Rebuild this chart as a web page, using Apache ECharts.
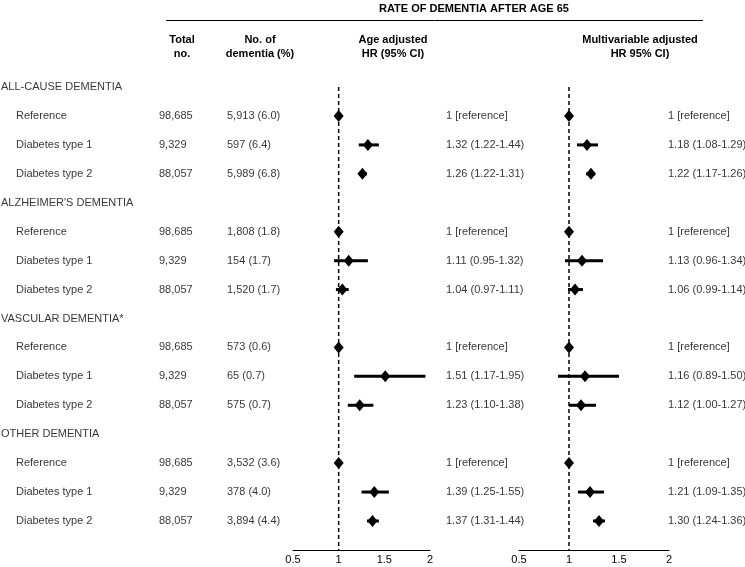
<!DOCTYPE html>
<html>
<head>
<meta charset="utf-8">
<script src="https://cdn.jsdelivr.net/npm/echarts@6/dist/echarts.min.js"></script>
<style>
html,body{margin:0;padding:0;background:#fff;}
#chart{width:745px;height:567px;}
</style>
</head>
<body>
<div id="chart"></div>
<script>
// ---------------- DATA ----------------
const title = "RATE OF DEMENTIA AFTER AGE 65";
const groups = ["ALL-CAUSE DEMENTIA", "ALZHEIMER'S DEMENTIA", "VASCULAR DEMENTIA*", "OTHER DEMENTIA"];
const subgroups = ["Reference", "Diabetes type 1", "Diabetes type 2"];
const totalNo = ["98,685", "9,329", "88,057"];
const dementiaN = [
  ["5,913 (6.0)", "597 (6.4)", "5,989 (6.8)"],
  ["1,808 (1.8)", "154 (1.7)", "1,520 (1.7)"],
  ["573 (0.6)", "65 (0.7)", "575 (0.7)"],
  ["3,532 (3.6)", "378 (4.0)", "3,894 (4.4)"]
];
const ageHR = [[1, 1.32, 1.26], [1, 1.11, 1.04], [1, 1.51, 1.23], [1, 1.39, 1.37]];
const ageLo = [[1, 1.22, 1.22], [1, 0.95, 0.97], [1, 1.17, 1.10], [1, 1.25, 1.31]];
const ageHi = [[1, 1.44, 1.31], [1, 1.32, 1.11], [1, 1.95, 1.38], [1, 1.55, 1.44]];
const mvHR = [[1, 1.18, 1.22], [1, 1.13, 1.06], [1, 1.16, 1.12], [1, 1.21, 1.30]];
const mvLo = [[1, 1.08, 1.17], [1, 0.96, 0.99], [1, 0.89, 1.00], [1, 1.09, 1.24]];
const mvHi = [[1, 1.29, 1.26], [1, 1.34, 1.14], [1, 1.50, 1.27], [1, 1.35, 1.36]];
const axisTicks = [0.5, 1, 1.5, 2];

// ---------------- LAYOUT ----------------
const FONT = "'Liberation Sans', Arial, sans-serif";
const ROW_MIN = -0.5, ROW_MAX = 16;
const GRID_TOP = 72.6, GRID_H = 477.3;
const COL = {group: 1, sub: 16, total: 159, dem: 227, ageTxt: 446, mvTxt: 668};

// build rows
const rows = [];
let r = 0;
groups.forEach((g, gi) => {
  rows.push({type: 'group', label: g, row: r++});
  subgroups.forEach((s, si) => {
    rows.push({type: 'item', label: s, gi, si, row: r++});
  });
});

function hrText(hr, lo, hi, si) {
  if (si === 0) return "1 [reference]";
  return hr.toFixed(2) + " (" + lo.toFixed(2) + "-" + hi.toFixed(2) + ")";
}

const textData = [];
rows.forEach(rw => {
  if (rw.type === 'group') {
    textData.push({value: [COL.group, rw.row], t: rw.label});
  } else {
    const {gi, si} = rw;
    textData.push({value: [COL.sub, rw.row], t: rw.label});
    textData.push({value: [COL.total, rw.row], t: totalNo[si]});
    textData.push({value: [COL.dem, rw.row], t: dementiaN[gi][si]});
    textData.push({value: [COL.ageTxt, rw.row], t: hrText(ageHR[gi][si], ageLo[gi][si], ageHi[gi][si], si)});
    textData.push({value: [COL.mvTxt, rw.row], t: hrText(mvHR[gi][si], mvLo[gi][si], mvHi[gi][si], si)});
  }
});

function pointData(HR) {
  return rows.filter(x => x.type === 'item').map(x => [HR[x.gi][x.si], x.row]);
}
function ciData(HR, LO, HI) {
  return rows.filter(x => x.type === 'item' && x.si > 0).map(x => [LO[x.gi][x.si], HI[x.gi][x.si], x.row]);
}

function ciSeries(idx, HR, LO, HI) {
  return {
    type: 'custom', xAxisIndex: idx, yAxisIndex: idx,
    data: ciData(HR, LO, HI),
    renderItem: function (params, api) {
      const a = api.coord([api.value(0), api.value(2)]);
      const b = api.coord([api.value(1), api.value(2)]);
      return {type: 'line', shape: {x1: a[0], y1: a[1], x2: b[0], y2: b[1]},
        style: {stroke: '#000', lineWidth: 3}};
    },
    silent: true, z: 3
  };
}
function ptSeries(idx, HR) {
  return {
    type: 'scatter', xAxisIndex: idx, yAxisIndex: idx,
    data: pointData(HR), symbol: 'diamond', symbolSize: [10, 12],
    itemStyle: {color: '#000', opacity: 1}, silent: true, z: 4
  };
}
function refLine(idx) {
  return {
    type: 'line', xAxisIndex: idx, yAxisIndex: idx,
    data: [[1, 0], [1, ROW_MAX]], symbol: 'none',
    lineStyle: {color: '#000', width: 1.5, type: [4, 3]}, silent: true, z: 2
  };
}
function fx(idx) {
  return {
    gridIndex: idx, type: 'value', position: 'bottom',
    min: axisTicks[0], max: axisTicks[axisTicks.length - 1], interval: 0.5,
    axisLine: {show: true, onZero: false, lineStyle: {color: '#000', width: 1}},
    axisTick: {show: false}, splitLine: {show: false},
    axisLabel: {color: '#000', fontSize: 11, fontFamily: FONT, margin: 5,
      formatter: v => String(v)}
  };
}
function fy(idx) {
  return {gridIndex: idx, type: 'value', min: ROW_MIN, max: ROW_MAX, inverse: true, show: false};
}

const option = {
  animation: false,
  backgroundColor: '#fff',
  textStyle: {fontFamily: FONT},
  grid: [
    {left: 293, width: 137, top: GRID_TOP, height: GRID_H},
    {left: 519, width: 150, top: GRID_TOP, height: GRID_H},
    {left: 0, width: 745, top: GRID_TOP, height: GRID_H}
  ],
  xAxis: [fx(0), fx(1),
    {gridIndex: 2, type: 'value', min: 0, max: 745, show: false}],
  yAxis: [fy(0), fy(1), fy(2)],
  graphic: [
    {type: 'text', left: 379, top: 3, style: {text: title, font: 'bold 11px ' + FONT, fill: '#000'}},
    {type: 'line', shape: {x1: 166, y1: 20.5, x2: 703, y2: 20.5}, style: {stroke: '#000', lineWidth: 1}},
    {type: 'text', x: 182, y: 47, style: {text: 'Total\nno.', font: 'bold 11px ' + FONT, fill: '#000', align: 'center', verticalAlign: 'middle', lineHeight: 14}},
    {type: 'text', x: 260, y: 47, style: {text: 'No. of\ndementia (%)', font: 'bold 11px ' + FONT, fill: '#000', align: 'center', verticalAlign: 'middle', lineHeight: 14}},
    {type: 'text', x: 393, y: 47, style: {text: 'Age adjusted\nHR (95% CI)', font: 'bold 11px ' + FONT, fill: '#000', align: 'center', verticalAlign: 'middle', lineHeight: 14}},
    {type: 'text', x: 640, y: 47, style: {text: 'Multivariable adjusted\nHR 95% CI)', font: 'bold 11px ' + FONT, fill: '#000', align: 'center', verticalAlign: 'middle', lineHeight: 14}}
  ],
  series: [
    refLine(0), refLine(1),
    ciSeries(0, ageHR, ageLo, ageHi), ciSeries(1, mvHR, mvLo, mvHi),
    ptSeries(0, ageHR), ptSeries(1, mvHR),
    {
      type: 'scatter', xAxisIndex: 2, yAxisIndex: 2, data: textData,
      symbolSize: 0, silent: true,
      label: {show: true, position: 'right', distance: 0, color: '#000', fontSize: 11, fontFamily: FONT,
        formatter: p => p.data.t}
    }
  ]
};

const chart = echarts.init(document.getElementById('chart'), null, {renderer: 'canvas'});
chart.setOption(option);
</script>
</body>
</html>
